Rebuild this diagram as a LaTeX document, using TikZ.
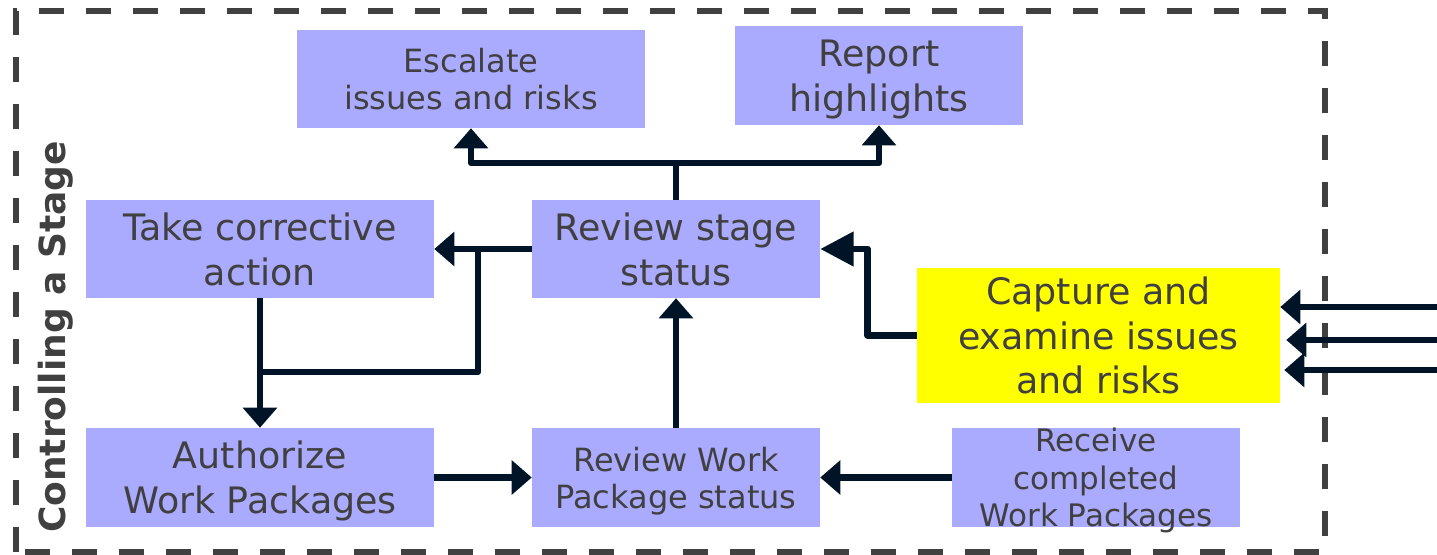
\documentclass[tikz,border=0pt]{standalone}
\usepackage{fontspec}
\setmainfont{DejaVu Sans}
\usetikzlibrary{arrows.meta}
\definecolor{boxblue}{HTML}{AAAAFF}
\definecolor{hiyellow}{HTML}{FFFF00}
\definecolor{inkgray}{HTML}{404040}
\definecolor{wire}{HTML}{001428}
\begin{document}
\begin{tikzpicture}[x=0.75pt,y=-0.75pt,
  proc/.style={fill=boxblue, draw=none, inner sep=0pt, text=inkgray, align=center, text depth=0pt},
  big/.style={font=\fontsize{27.3}{33.75}\selectfont},
  small/.style={font=\fontsize{24}{27.75}\selectfont},
  wideproc/.style={minimum width=261pt},
  narrowproc/.style={minimum width=216pt},
  wireline/.style={draw=wire, line width=4.9pt, line join=round},
  flow/.style={wireline, -{Triangle[length=15pt,width=25pt]}},
  bigflow/.style={wireline, -{Triangle[length=25pt,width=25pt]}},
]
\useasboundingbox (0,0) rectangle (1437,555);

% stage frame and its title
\draw[inkgray, line width=4.5pt, dash pattern=on 18.75pt off 16.5pt]
  (16,552) -- (16,11) -- (1325,11) -- (1325,552) -- cycle;
\node[rotate=90, text=inkgray, inner sep=0pt,
      font=\bfseries\fontsize{27}{32}\selectfont] (title) at (55.5,337) {Controlling a Stage};

% activities
\node[proc, small, wideproc, minimum height=73.5pt] (esc) at (471,79) {Escalate\\issues and risks};
\node[proc, big, narrowproc, minimum height=74.25pt] (rep) at (879,75.5) {Report\\highlights};
\node[proc, big, wideproc, minimum height=73.5pt] (tc) at (260,249) {Take corrective\\action};
\node[proc, big, narrowproc, minimum height=73.5pt] (rs) at (676,249) {Review stage\\status};
\node[proc, fill=hiyellow, minimum width=272.25pt, minimum height=101.25pt,
      font=\fontsize{27.3}{33.4}\selectfont] (cap) at (1098.5,335.5) {Capture and\\examine issues\\and risks};
\node[proc, big, wideproc, minimum height=74.25pt] (au) at (260,477.5) {Authorize\\Work Packages};
\node[proc, small, narrowproc, minimum height=74.25pt] (rw) at (676,477.5) {Review Work\\Package status};
\node[proc, narrowproc, minimum height=74.25pt,
      font=\fontsize{23.25}{28.1}\selectfont] (rc) at (1096,477.5) {Receive\\completed\\Work Packages};

% junction points of the branching connectors
\coordinate (jt) at (rs.north |- 0,163);
\coordinate (jb) at (478,249);
\coordinate (jl) at (257,372);
\coordinate (in1) at (1445,307);
\coordinate (in2) at (1445,340);
\coordinate (in3) at (1445,370);

% connectors
\draw[flow] (rs.north) -- (jt) -| (esc.south);
\draw[flow] (jt) -| (rep.south);
\draw[flow] (rs.west) -- (tc.east);
\draw[wireline] (jb) |- (jl);
\draw[flow] (tc.south) -- (au.north);
\draw[flow] (au.east) -- (rw.west);
\draw[flow] (rw.north) -- (rs.south);
\draw[flow] (rc.west) -- (rw.east);
\draw[bigflow] (cap.west) -- ++(-49,0) |- (rs.east);
\draw[flow] (in1) -- (in1 -| cap.east);
\draw[flow] (in2) -- ([xshift=4.5pt]in2 -| cap.east);
\draw[flow] (in3) -- ([xshift=3pt]in3 -| cap.east);
\end{tikzpicture}
\end{document}
